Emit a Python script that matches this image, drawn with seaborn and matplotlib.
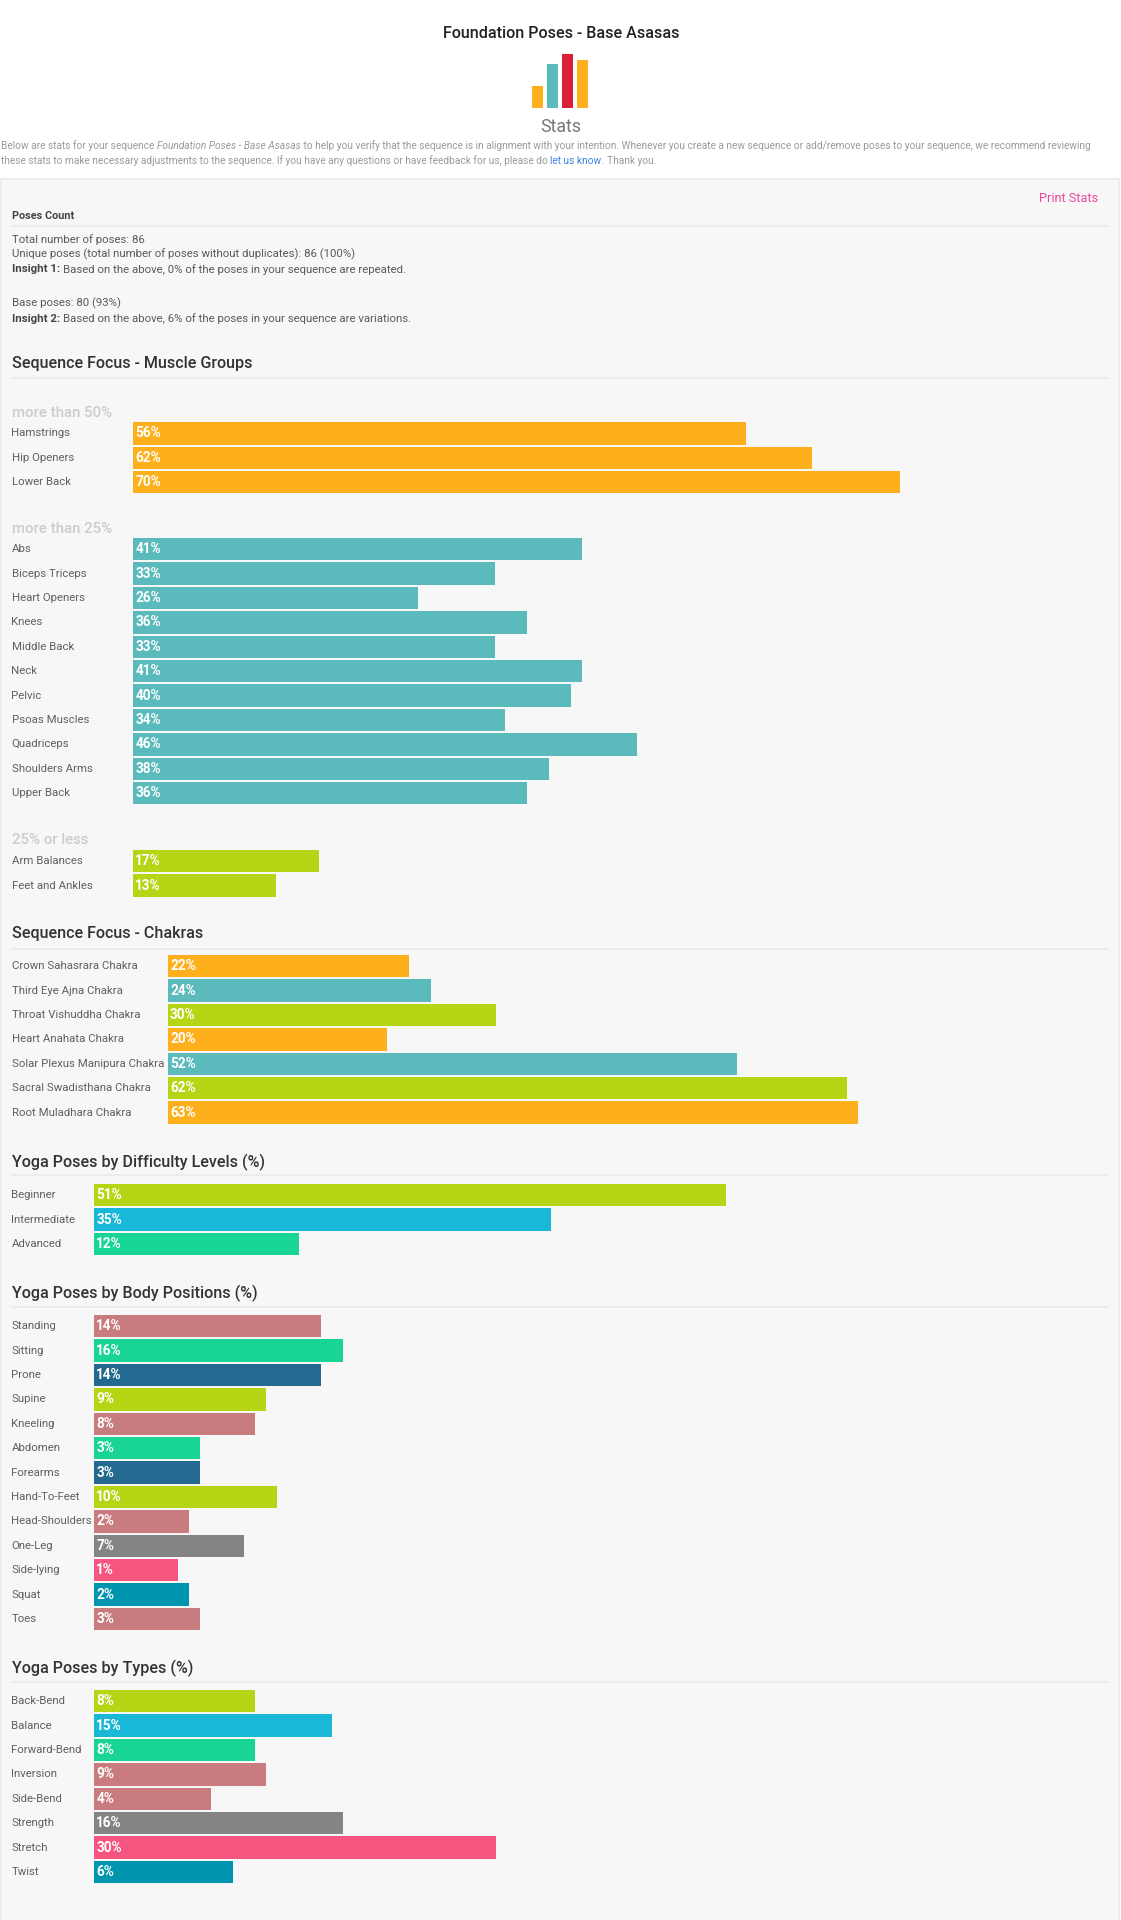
import matplotlib
matplotlib.use("Agg")
import matplotlib.pyplot as plt
from matplotlib.patches import Rectangle
from matplotlib.lines import Line2D
from matplotlib.transforms import ScaledTranslation
import pandas as pd
import seaborn as sns

# ---- data ----
high_labels = ["Hamstrings", "Hip Openers", "Lower Back"]
high_values = [56, 62, 70]
mid_labels = ["Abs", "Biceps Triceps", "Heart Openers", "Knees", "Middle Back", "Neck", "Pelvic",
              "Psoas Muscles", "Quadriceps", "Shoulders Arms", "Upper Back"]
mid_values = [41, 33, 26, 36, 33, 41, 40, 34, 46, 38, 36]
low_labels = ["Arm Balances", "Feet and Ankles"]
low_values = [17, 13]
chakra_labels = ["Crown Sahasrara Chakra", "Third Eye Ajna Chakra", "Throat Vishuddha Chakra",
                 "Heart Anahata Chakra", "Solar Plexus Manipura Chakra", "Sacral Swadisthana Chakra",
                 "Root Muladhara Chakra"]
chakra_values = [22, 24, 30, 20, 52, 62, 63]
level_labels = ["Beginner", "Intermediate", "Advanced"]
level_values = [51, 35, 12]
body_labels = ["Standing", "Sitting", "Prone", "Supine", "Kneeling", "Abdomen", "Forearms", "Hand-To-Feet",
               "Head-Shoulders", "One-Leg", "Side-lying", "Squat", "Toes"]
body_values = [14, 16, 14, 9, 8, 3, 3, 10, 2, 7, 1, 2, 3]
type_labels = ["Back-Bend", "Balance", "Forward-Bend", "Inversion", "Side-Bend", "Strength", "Stretch", "Twist"]
type_values = [8, 15, 8, 9, 4, 16, 30, 6]
icon_labels = ["a", "b", "c", "d"]
icon_values = [22, 44, 54, 48]

# ---- colours ----
ORANGE, TEAL, LIME, BLUE = "#FDB01B", "#5BBBBC", "#B5D515", "#1AB8D8"
GREEN, ROSE, NAVY, GRAY = "#18D594", "#C87C7F", "#24698F", "#848484"
PINK, DTEAL, RED = "#F5567F", "#0095AE", "#DD1F35"
chakra_colors = [ORANGE, TEAL, LIME, ORANGE, TEAL, LIME, ORANGE]
level_colors = [LIME, BLUE, GREEN]
body_colors = [ROSE, GREEN, NAVY, LIME, ROSE, GREEN, NAVY, LIME, ROSE, GRAY, PINK, DTEAL, ROSE]
type_colors = [LIME, BLUE, GREEN, ROSE, ROSE, GRAY, PINK, DTEAL]

sns.set_theme(style="white")
plt.rcParams["font.family"] = ["Roboto", "DejaVu Sans"]

W, H = 1121, 1920
fig = plt.figure(figsize=(W / 100, H / 100), dpi=100, facecolor="white")
renderer = fig.canvas.get_renderer()
PT = 0.72


def put(x, y, s, size, color="#555555", weight="normal", style="normal", ha="left"):
    return fig.text(x / W, 1 - (y + 1) / H, s, fontsize=size, color=color, fontweight=weight,
                    fontstyle=style, ha=ha, va="center")


def runs(x, y, parts, size, color="#555555"):
    for item in parts:
        s, kw = item
        c = kw.get("color", color)
        t = put(x, y, s, size, color=c, weight=kw.get("weight", "normal"), style=kw.get("style", "normal"))
        x += t.get_window_extent(renderer).width + kw.get("gap", 0)


def rule(y, x0=11, x1=1108, color="#EAEBEC", lw=1.3):
    fig.add_artist(Line2D([x0 / W, x1 / W], [1 - y / H, 1 - y / H], color=color, lw=lw))


fig.add_artist(Rectangle((1 / W, -0.01), 1118 / W, 1.01 - 179 / H, transform=fig.transFigure,
                         facecolor="#F7F7F8", edgecolor="#ECECEC", lw=1.5, zorder=-1))

PITCH, BAR_H, PX_PER_PCT = 24.4, 22.3, 10.95
BASE = 73.5 / PX_PER_PCT


def panel(labels, values, colors, left, first_top, base=0.0, right=1108):
    n = len(labels)
    top = first_top - (PITCH - BAR_H) / 2
    height = n * PITCH
    ax = fig.add_axes([left / W, 1 - (top + height) / H, (right - left) / W, height / H])
    ax.patch.set_alpha(0)
    df = pd.DataFrame({"label": labels, "value": values})
    df["length"] = df["value"] + base
    sns.barplot(data=df, x="length", y="label", hue="label", palette=colors, legend=False,
                saturation=1, width=BAR_H / PITCH, ax=ax, linewidth=0)
    ax.set_xlim(0, (right - left) / PX_PER_PCT)
    ax.set_ylim(n - 0.5, -0.5)
    ax.set(xlabel="", ylabel="", xticks=[])
    sns.despine(ax=ax, left=True, bottom=True)
    ax.tick_params(axis="y", length=0, pad=(left - 11.5) * PT)
    for t in ax.get_yticklabels():
        t.set_ha("left")
        t.set_fontsize(8.2)
        t.set_color("#606060")
        t.set_transform(t.get_transform() + ScaledTranslation(0, 1 / 100, fig.dpi_scale_trans))
    for i, v in enumerate(values):
        ax.annotate(f"{v}%", xy=(0, i), xytext=(2.2 * PT, 0), textcoords="offset points",
                    color="white", fontsize=9.8, fontweight="bold", va="center", ha="left")
    return ax


# ---- header ----
put(561, 32, "Foundation Poses - Base Asasas", 11.6, color="#222222", weight="medium", ha="center")
ic = fig.add_axes([530 / W, 1 - 107.7 / H, 60 / W, 56 / H])
ic.patch.set_alpha(0)
sns.barplot(x=icon_labels, y=icon_values, hue=icon_labels, palette=[ORANGE, TEAL, RED, ORANGE],
            legend=False, saturation=1, width=0.74, ax=ic, linewidth=0)
ic.set_ylim(0, 56)
ic.axis("off")
put(561, 125.5, "Stats", 12.8, color="#777777", weight="normal", ha="center")

GREY_INTRO = "#9A9A9A"
runs(1, 145, [("Below are stats for your sequence ", {}),
              ("Foundation Poses - Base Asasas", {"style": "italic"}),
              (" to help you verify that the sequence is in alignment with your intention. Whenever you create a new sequence or add/remove poses to your sequence, we recommend reviewing", {})],
     7.29, color=GREY_INTRO)
runs(1, 160, [("these stats to make necessary adjustments to the sequence. If you have any questions or have feedback for us, please do ", {}),
              ("let us know", {"color": "#3D85E0"}),
              (". Thank you.", {})], 7.29, color=GREY_INTRO)

put(1098, 197, "Print Stats", 9.2, color="#F0489E", ha="right")
put(11.5, 215, "Poses Count", 7.8, color="#444444", weight="bold")
rule(226)
put(11.5, 238.7, "Total number of poses: 86", 8.2, color="#5A5A5A")
put(11.5, 253.5, "Unique poses (total number of poses without duplicates): 86 (100%)", 8.2, color="#5A5A5A")
runs(11.5, 268.3, [("Insight 1: ", {"weight": "bold", "color": "#444444"}),
                   ("Based on the above, 0% of the poses in your sequence are repeated.", {})], 8.2, color="#5A5A5A")
put(11.5, 302.7, "Base poses: 80 (93%)", 8.2, color="#5A5A5A")
runs(11.5, 317.7, [("Insight 2: ", {"weight": "bold", "color": "#444444"}),
                   ("Based on the above, 6% of the poses in your sequence are variations.", {})], 8.2, color="#5A5A5A")

# ---- muscle groups ----
put(11.5, 362.7, "Sequence Focus - Muscle Groups", 11.6, color="#333333", weight="medium")
rule(377.5)
put(11.5, 411.7, "more than 50%", 10.8, color="#CCCCCC", weight="medium")
panel(high_labels, high_values, [ORANGE] * 3, 133.2, 422.3)
put(11.5, 527.7, "more than 25%", 10.8, color="#CCCCCC", weight="medium")
panel(mid_labels, mid_values, [TEAL] * 11, 133.2, 538)
put(11.5, 838.5, "25% or less", 10.8, color="#CCCCCC", weight="medium")
panel(low_labels, low_values, [LIME] * 2, 133.2, 850)

# ---- chakras ----
put(11.5, 932.5, "Sequence Focus - Chakras", 11.6, color="#333333", weight="medium")
rule(949)
panel(chakra_labels, chakra_values, chakra_colors, 167.9, 955)

# ---- difficulty ----
put(11.5, 1161, "Yoga Poses by Difficulty Levels (%)", 11.6, color="#333333", weight="medium")
rule(1175)
panel(level_labels, level_values, level_colors, 94, 1184, base=BASE)

# ---- body positions ----
put(11.5, 1292.3, "Yoga Poses by Body Positions (%)", 11.6, color="#333333", weight="medium")
rule(1306.7)
panel(body_labels, body_values, body_colors, 94, 1315, base=BASE)

# ---- types ----
put(11.5, 1667, "Yoga Poses by Types (%)", 11.6, color="#333333", weight="medium")
rule(1681.7)
panel(type_labels, type_values, type_colors, 94, 1690, base=BASE)

fig.savefig("out.png", dpi=100, facecolor="white")
